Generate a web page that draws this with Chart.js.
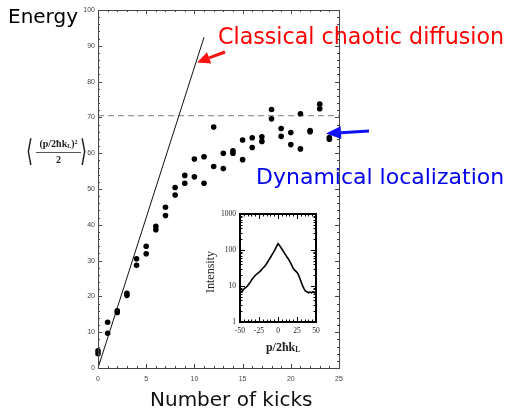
<!DOCTYPE html>
<html><head><meta charset="utf-8">
<script src="https://cdn.jsdelivr.net/npm/chart.js@4"></script>
<style>
html,body{margin:0;padding:0;background:#fff;width:509px;height:409px;overflow:hidden;}
#wrap{position:relative;width:509px;height:409px;}
canvas{position:absolute;}
#main{left:0;top:0;}
#inset{left:190px;top:205px;}
.t{position:absolute;white-space:nowrap;line-height:1;font-family:"DejaVu Sans",sans-serif;}
.s{position:absolute;white-space:nowrap;line-height:1;font-family:"Liberation Serif","DejaVu Serif",serif;color:#222;}
sub{font-size:60%;vertical-align:baseline;position:relative;top:0.15em;}
sup{font-size:60%;vertical-align:baseline;position:relative;top:-0.55em;}
</style></head><body>
<div id="wrap">
<canvas id="main" width="509" height="409"></canvas>
<canvas id="inset" width="135" height="135"></canvas>
<div class="t" style="left:8px;top:6px;font-size:20px;color:#000">Energy</div>
<div class="t" style="left:218px;top:25px;font-size:22.2px;color:#ff0000">Classical chaotic diffusion</div>
<div class="t" style="left:256px;top:166px;font-size:22px;color:#0000ee">Dynamical localization</div>
<div class="t" style="left:150px;top:389px;font-size:20px;color:#111">Number of kicks</div>
<div class="s" style="left:26px;top:136px;font-size:30px;transform:scaleX(0.6);transform-origin:left top;color:#222">⟨</div>
<div class="s" style="left:80px;top:136px;font-size:30px;transform:scaleX(0.6);transform-origin:left top;color:#222">⟩</div>
<div class="s" style="left:36px;top:139px;width:45px;text-align:center;font-size:10px;font-weight:bold">(p/2ħk<sub>L</sub>)<sup>2</sup></div>
<div style="position:absolute;left:36px;top:152px;width:45px;height:1px;background:#555"></div>
<div class="s" style="left:36px;top:155px;width:45px;text-align:center;font-size:10px;font-weight:bold">2</div>
<div class="s" style="left:187px;top:266px;width:46px;text-align:center;font-size:12px;transform:rotate(-90deg);transform-origin:center center">Intensity</div>
<div class="s" style="left:253px;top:341px;width:60px;text-align:center;font-size:12px;font-weight:bold">p/2ħk<sub>L</sub></div>
</div>
<script>
// ---- main chart data ----
const kicks  = [0,0, 1,1, 2,2, 3,3, 4,4, 5,5, 6,6, 7,7, 8,8, 9,9, 10,10, 11,11, 12,12, 13,13, 14,14, 15,15, 16,16, 17,17, 18,18, 19,19, 20,20, 21,21, 22,22, 23,23, 24,24];
const energy = [4.8,4.0, 12.8,9.7, 16.0,15.5, 20.9,20.3, 30.5,28.7, 34.0,31.9, 39.6,38.6, 44.9,42.6, 50.4,48.3, 53.8,51.6, 58.4,53.4, 59.0,51.6, 67.3,56.3, 60.0,55.7, 60.7,60.0, 63.7,58.2, 64.3,61.6, 64.6,63.3, 72.2,69.6, 66.9,64.7, 65.8,62.4, 71.0,61.2, 66.3,66.0, 73.7,72.4, 64.4,63.9];
const classicalKicks  = [0, 11];
const classicalEnergy = [0, 92.4];
const localizationLevel = 70.5;
const xTickLabels = [0,5,10,15,20,25];
const yTickLabels = [0,10,20,30,40,50,60,70,80,90,100];

// ---- inset data ----
const momentum  = [-50,-48,-46,-44,-42,-40,-38,-36,-34,-32,-30,-28,-26,-24,-22,-20,-18,-16,-14,-12,-10,-8,-6,-4,-2,0,2,4,6,8,10,12,14,16,18,20,22,24,26,28,30,32,34,36,38,40,42,44,46,48,50];
const intensity = [7.5,6.8,7.6,8.6,9.2,10.2,11.6,13.2,15.5,17.5,19.5,21.5,23,25,27.5,31,34.5,39,45,53,62,73,86,103,124,150,134,116,100,86,73,63,55,46,38,31,27.5,25,22.5,18,13.8,10.6,8.6,7.3,6.9,6.5,6.8,6.5,6.9,6.5,7.0];
const insetXTicks = [-50,-25,0,25,50];
const insetYTicks = [1,10,100,1000];

function framePlugin(id, o){
  return {id, afterDatasetsDraw(chart){
    const {ctx, chartArea:a, scales:{x,y}} = chart;
    ctx.save();
    ctx.strokeStyle = o.color; ctx.lineWidth = 1;
    ctx.beginPath();
    o.xt.forEach(([v,l])=>{const p=Math.round(x.getPixelForValue(v))+0.5; ctx.moveTo(p,a.bottom); ctx.lineTo(p,a.bottom-l); ctx.moveTo(p,a.top); ctx.lineTo(p,a.top+l);});
    o.yt.forEach(([v,l])=>{const p=Math.round(y.getPixelForValue(v))+0.5; ctx.moveTo(a.left,p); ctx.lineTo(a.left+l,p); ctx.moveTo(a.right,p); ctx.lineTo(a.right-l,p);});
    ctx.stroke();
    ctx.lineWidth = o.bw;
    const h=o.bw%2?0.5:0;
    ctx.strokeRect(Math.round(a.left)+h, Math.round(a.top)+h, Math.round(a.right-a.left), Math.round(a.bottom-a.top));
    ctx.restore();
    if (o.after) o.after(chart);
  }};
}
function arrow(ctx, x0,y0,x1,y1, col, hl, hw, lw){
  const ang=Math.atan2(y1-y0,x1-x0), bx=x1-hl*Math.cos(ang), by=y1-hl*Math.sin(ang);
  ctx.save(); ctx.strokeStyle=col; ctx.fillStyle=col; ctx.lineWidth=lw;
  ctx.beginPath(); ctx.moveTo(x0,y0); ctx.lineTo(bx,by); ctx.stroke();
  ctx.beginPath(); ctx.moveTo(x1,y1);
  ctx.lineTo(bx+hw*Math.sin(ang), by-hw*Math.cos(ang));
  ctx.lineTo(bx-hw*Math.sin(ang), by+hw*Math.cos(ang));
  ctx.closePath(); ctx.fill(); ctx.restore();
}

const mainXt=[], mainYt=[];
for(let v=0; v<=25; v++) mainXt.push([v, v%5===0?4:2]);
for(let v=0; v<=100; v+=2) mainYt.push([v, v%10===0?4:2]);

new Chart(document.getElementById('main'), {
  type:'scatter',
  data:{datasets:[
    {label:'Measured energy', data:kicks.map((k,i)=>({x:k,y:energy[i]})), backgroundColor:'#000', borderColor:'#000', pointRadius:2.8, borderWidth:0, clip:false},
    {type:'line', label:'Classical diffusion', data:classicalKicks.map((k,i)=>({x:k,y:classicalEnergy[i]})), borderColor:'#111', borderWidth:1, pointRadius:0, tension:0},
    {type:'line', label:'Localization level', data:[{x:0,y:localizationLevel},{x:25,y:localizationLevel}], borderColor:'#999', borderDash:[6,4], borderWidth:1.3, pointRadius:0}
  ]},
  options:{
    responsive:false, animation:false, devicePixelRatio:1,
    layout:{padding:{left:0,right:170,top:10,bottom:0}},
    plugins:{legend:{display:false}, tooltip:{enabled:false}},
    scales:{
      x:{type:'linear', min:0, max:25, afterBuildTicks(s){s.ticks=xTickLabels.map(v=>({value:v}));},
         ticks:{color:'#444', font:{family:'Liberation Sans', size:7}, padding:7, maxRotation:0, autoSkip:false},
         grid:{display:false, drawTicks:false}, border:{display:false}, afterFit(s){s.height=41;}},
      y:{type:'linear', min:0, max:100, afterBuildTicks(s){s.ticks=yTickLabels.map(v=>({value:v}));},
         ticks:{color:'#444', font:{family:'Liberation Sans', size:7}, padding:3, autoSkip:false},
         grid:{display:false, drawTicks:false}, border:{display:false}, afterFit(s){s.width=98;}}
    }
  },
  plugins:[framePlugin('mainFrame',{color:'#444', bw:1, xt:mainXt, yt:mainYt, after(chart){
    const ctx=chart.ctx;
    arrow(ctx, 225,52, 197,62.5, '#ff1010', 13, 6, 3);
    arrow(ctx, 369,131, 326,133.5, '#1010ff', 15, 6.5, 3);
  }})]
});

const inXt=[], inYt=[];
for(let v=-50; v<=50; v+=5) inXt.push([v, v%25===0?5:2.5]);
for(let d=1; d<1000; d*=10) for(let m=1; m<10; m++) inYt.push([d*m, m===1?5:2.5]);

new Chart(document.getElementById('inset'), {
  type:'line',
  data:{datasets:[{label:'Intensity', data:momentum.map((p,i)=>({x:p,y:intensity[i]})), borderColor:'#000', borderWidth:1.6, pointRadius:0, tension:0}]},
  options:{
    responsive:false, animation:false, devicePixelRatio:1,
    layout:{padding:{left:0,right:9,top:9,bottom:0}},
    plugins:{legend:{display:false}, tooltip:{enabled:false}},
    scales:{
      x:{type:'linear', min:-50, max:50, afterBuildTicks(s){s.ticks=insetXTicks.map(v=>({value:v}));},
         ticks:{color:'#222', font:{family:'Liberation Serif', size:7.5}, padding:5, maxRotation:0, autoSkip:false},
         grid:{display:false, drawTicks:false}, border:{display:false}, afterFit(s){s.height=18;}},
      y:{type:'logarithmic', min:1, max:1000, afterBuildTicks(s){s.ticks=insetYTicks.map(v=>({value:v}));},
         ticks:{color:'#222', font:{family:'Liberation Serif', size:7.5}, padding:4, autoSkip:false, callback:v=>String(v)},
         grid:{display:false, drawTicks:false}, border:{display:false}, afterFit(s){s.width=50;}}
    }
  },
  plugins:[framePlugin('insetFrame',{color:'#000', bw:2, xt:inXt, yt:inYt})]
});
</script>
</body></html>
